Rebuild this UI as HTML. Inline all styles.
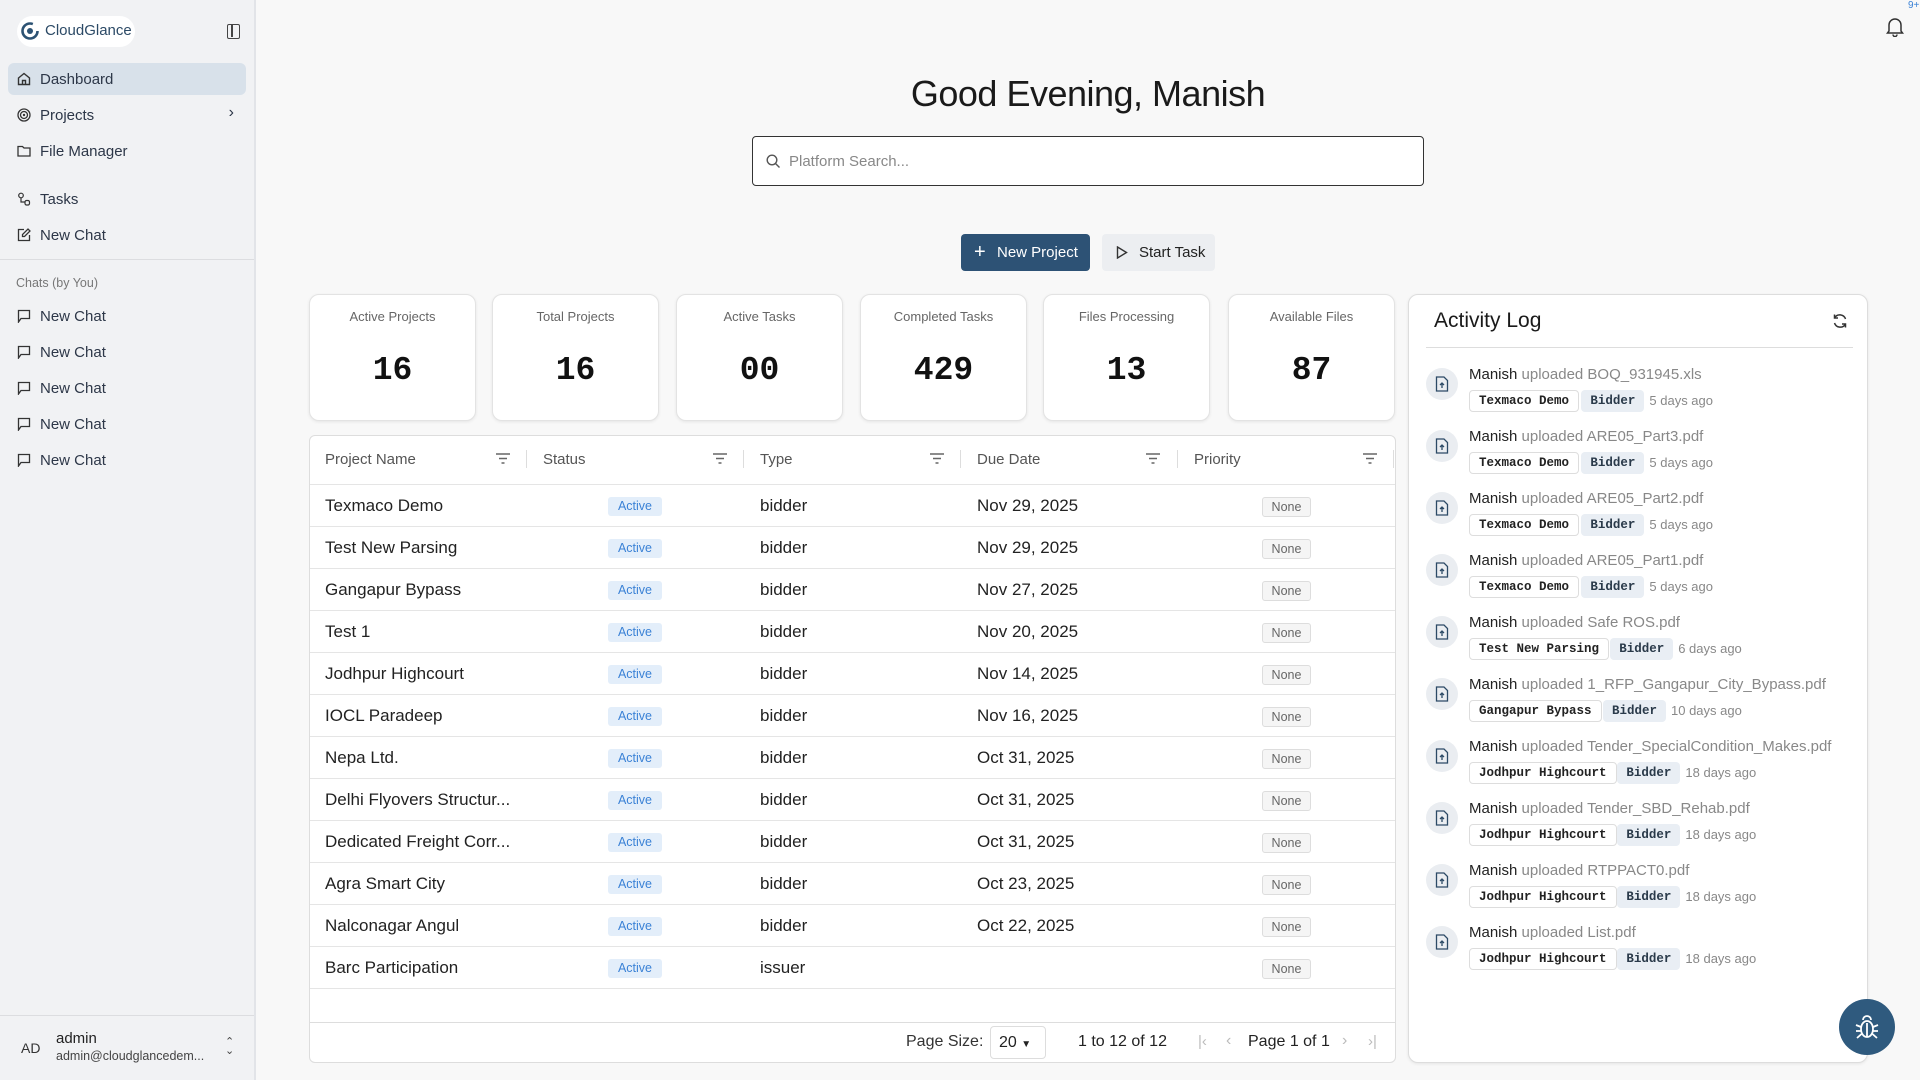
<!DOCTYPE html>
<html><head><meta charset="utf-8"><style>
*{box-sizing:border-box;margin:0;padding:0}
body{width:1920px;height:1080px;overflow:hidden;background:#f8f8f8;font-family:"Liberation Sans",sans-serif;color:#1f2937;position:relative}
.a{position:absolute}
#sb{left:0;top:0;width:256px;height:1080px;background:#f1f2f4;border-right:2px solid #e2e4e8}
.nav{position:absolute;left:8px;width:238px;height:32px;font-size:15px;color:#2d3748;display:flex;align-items:center;padding-left:32px}
.nav svg{position:absolute;left:9px;top:9px}
.card{position:absolute;top:294px;width:167px;height:127px;background:#fff;border:1px solid #e3e3e3;border-radius:10px;box-shadow:0 1px 3px rgba(0,0,0,.08);text-align:center}
.card .l{font-size:13px;color:#666;margin-top:14px}
.card .n{font-family:"Liberation Mono",monospace;font-size:33px;font-weight:bold;color:#111;margin-top:28px}
.row{position:absolute;left:0;width:1086px;height:42px;border-top:1px solid #e5e5e5;font-size:17px;color:#222}
.row span{position:absolute;top:11px}
.act{position:absolute;left:298px;top:12px;width:54px;height:19px;background:#e3eefa;color:#3b82d6;font-size:12.5px;text-align:center;line-height:19px;border-radius:3px}
.none{position:absolute;left:952px;top:12px;width:49px;height:20px;border:1px solid #ddd;background:#f5f5f5;color:#666;font-size:12.5px;text-align:center;line-height:18px;border-radius:3px}
.hd{position:absolute;top:15px;font-size:15px;color:#555}
.sep{position:absolute;top:14px;width:1px;height:18px;background:#ddd}
.it{position:absolute;left:25px;width:440px;height:60px}
.ic{position:absolute;left:-8px;top:2px;width:32px;height:32px;border-radius:50%;background:#eaedf1}
.ic svg{position:absolute;left:9px;top:8px}
.t1{position:absolute;left:35px;top:0;font-size:15px;color:#888;white-space:nowrap}
.t1 b{font-weight:normal;color:#222}
.tg{position:absolute;top:24px;height:22px;font-family:"Liberation Mono",monospace;font-size:12.5px;font-weight:bold;line-height:20px;padding:0 9px;border-radius:4px;color:#222}
.tg.o{border:1px solid #ddd;background:#fff}
.tg.f{background:#e9eef4;color:#2a3a4a;line-height:22px}
.tm{position:absolute;top:27px;font-size:13px;color:#888}
</style></head><body>
<div id="sb" class="a">
 <div class="a" style="left:17px;top:16px;width:118px;height:31px;background:#fff;border-radius:16px"></div>
 <svg class="a" style="left:20px;top:21px" width="20" height="20" viewBox="0 0 20 20"><circle cx="10" cy="10" r="7.5" fill="none" stroke="#2c5273" stroke-width="2.6" stroke-dasharray="38 9"/><circle cx="10" cy="10" r="3" fill="#2c5273"/></svg>
 <div class="a" style="left:45px;top:22px;font-size:15px;color:#2c4a66">CloudGlance</div>
 <div class="a" style="left:227px;top:24px;width:13px;height:15px;border:1.6px solid #444;border-radius:2px"><div style="position:absolute;left:3px;top:0;width:1.6px;height:12px;background:#444"></div></div>
 <div class="nav" style="top:63px;background:#d8e1ea;border-radius:6px"><svg width="14" height="14" viewBox="0 0 14 14"><path d="M1.5 6 7 1.5 12.5 6V12.5H1.5Z M5.5 12.5V8.5H8.5V12.5" fill="none" stroke="#333" stroke-width="1.4"/></svg>Dashboard</div>
 <div class="nav" style="top:99px"><svg width="14" height="14"><circle cx="7" cy="7" r="6" fill="none" stroke="#333" stroke-width="1.3"/><circle cx="7" cy="7" r="3.5" fill="none" stroke="#333" stroke-width="1.3"/><circle cx="7" cy="7" r="1.2" fill="#333"/></svg>Projects<span style="position:absolute;right:12px;top:5px;font-size:16px">›</span></div>
 <div class="nav" style="top:135px"><svg width="14" height="14"><path d="M1 2.5H5.5L7 4H13V12H1Z" fill="none" stroke="#333" stroke-width="1.3"/></svg>File Manager</div>
 <div class="nav" style="top:183px"><svg width="14" height="14"><circle cx="4" cy="3.5" r="2.3" fill="none" stroke="#333" stroke-width="1.2"/><rect x="8" y="8.5" width="4.5" height="4.5" rx="1.5" fill="none" stroke="#333" stroke-width="1.2"/><path d="M4 6V10H8" fill="none" stroke="#333" stroke-width="1.2"/></svg>Tasks</div>
 <div class="nav" style="top:219px"><svg width="14" height="14"><path d="M7 1.5H1.5V12.5H12.5V7 M5.5 8.5V6.5L11 1 13 3 7.5 8.5Z" fill="none" stroke="#333" stroke-width="1.3"/></svg>New Chat</div>
 <div class="a" style="left:0;top:259px;width:254px;height:1px;background:#dcdde0"></div>
 <div class="a" style="left:16px;top:276px;font-size:12.5px;color:#777">Chats (by You)</div>
 <div class="nav" style="top:300px"><svg width="14" height="14"><path d="M1.5 13V1.5H12.5V9.5H4Z" fill="none" stroke="#333" stroke-width="1.3"/></svg>New Chat</div>
 <div class="nav" style="top:336px"><svg width="14" height="14"><path d="M1.5 13V1.5H12.5V9.5H4Z" fill="none" stroke="#333" stroke-width="1.3"/></svg>New Chat</div>
 <div class="nav" style="top:372px"><svg width="14" height="14"><path d="M1.5 13V1.5H12.5V9.5H4Z" fill="none" stroke="#333" stroke-width="1.3"/></svg>New Chat</div>
 <div class="nav" style="top:408px"><svg width="14" height="14"><path d="M1.5 13V1.5H12.5V9.5H4Z" fill="none" stroke="#333" stroke-width="1.3"/></svg>New Chat</div>
 <div class="nav" style="top:444px"><svg width="14" height="14"><path d="M1.5 13V1.5H12.5V9.5H4Z" fill="none" stroke="#333" stroke-width="1.3"/></svg>New Chat</div>
 <div class="a" style="left:0;top:1015px;width:254px;height:1px;background:#dcdde0"></div>
 <div class="a" style="left:21px;top:1040px;font-size:14px;color:#333">AD</div>
 <div class="a" style="left:56px;top:1030px;font-size:15px;color:#222">admin</div>
 <div class="a" style="left:56px;top:1049px;font-size:12.5px;color:#444">admin@cloudglancedem...</div>
 <div class="a" style="left:225px;top:1038px;font-size:11px;color:#444;line-height:9px">⌃<br>⌄</div>
</div>

<svg class="a" style="left:1886px;top:17px" width="18" height="20"><path d="M3 14V8a6 6 0 0 1 12 0v6l1.5 2H1.5Z M7 17.5a2 2 0 0 0 4 0" fill="none" stroke="#333" stroke-width="1.5"/></svg>
<div class="a" style="left:1908px;top:0;font-size:10px;color:#3b82d6">9+</div>

<div class="a" style="left:0;width:2176px;top:73px;text-align:center;font-size:36px;letter-spacing:-0.5px;color:#1a1a1a">Good Evening, Manish</div>
<div class="a" style="left:752px;top:136px;width:672px;height:50px;border:1.5px solid #333;border-radius:4px;background:#fff">
 <svg class="a" style="left:13px;top:17px" width="15" height="15"><circle cx="6" cy="6" r="4.8" fill="none" stroke="#555" stroke-width="1.4"/><path d="M9.5 9.5 13.5 13.5" stroke="#555" stroke-width="1.4"/></svg>
 <div class="a" style="left:36px;top:16px;font-size:15px;color:#888">Platform Search...</div>
</div>
<div class="a" style="left:961px;top:234px;width:129px;height:37px;background:#2d5275;border-radius:4px;color:#fff;font-size:15px;line-height:37px;padding-left:36px"><span style="position:absolute;left:13px;font-size:20px">+</span>New Project</div>
<div class="a" style="left:1102px;top:234px;width:113px;height:37px;background:#eceef1;border-radius:4px;color:#222;font-size:15px;line-height:37px;padding-left:37px"><svg class="a" style="left:14px;top:12px" width="12" height="13"><path d="M1.5 1 10.5 6.5 1.5 12Z" fill="none" stroke="#333" stroke-width="1.4"/></svg>Start Task</div>

<div class="card" style="left:309px"><div class="l">Active Projects</div><div class="n">16</div></div>
<div class="card" style="left:492px"><div class="l">Total Projects</div><div class="n">16</div></div>
<div class="card" style="left:676px"><div class="l">Active Tasks</div><div class="n">00</div></div>
<div class="card" style="left:860px"><div class="l">Completed Tasks</div><div class="n">429</div></div>
<div class="card" style="left:1043px"><div class="l">Files Processing</div><div class="n">13</div></div>
<div class="card" style="left:1228px"><div class="l">Available Files</div><div class="n">87</div></div>

<div class="a" style="left:309px;top:435px;width:1087px;height:628px;background:#fff;border:1px solid #ddd;border-radius:6px;overflow:hidden">
 <div class="hd" style="left:15px">Project Name</div><div class="hd" style="left:233px">Status</div><div class="hd" style="left:450px">Type</div><div class="hd" style="left:667px">Due Date</div><div class="hd" style="left:884px">Priority</div>
 <div class="sep" style="left:216px"></div><div class="sep" style="left:433px"></div><div class="sep" style="left:650px"></div><div class="sep" style="left:867px"></div><div class="sep" style="left:1083px"></div>
 <svg class="a" style="left:186px;top:17px" width="14" height="11"><path d="M0 1H14M3 5.5H11M5.5 10H8.5" stroke="#666" stroke-width="1.4"/></svg>
 <svg class="a" style="left:403px;top:17px" width="14" height="11"><path d="M0 1H14M3 5.5H11M5.5 10H8.5" stroke="#666" stroke-width="1.4"/></svg>
 <svg class="a" style="left:620px;top:17px" width="14" height="11"><path d="M0 1H14M3 5.5H11M5.5 10H8.5" stroke="#666" stroke-width="1.4"/></svg>
 <svg class="a" style="left:836px;top:17px" width="14" height="11"><path d="M0 1H14M3 5.5H11M5.5 10H8.5" stroke="#666" stroke-width="1.4"/></svg>
 <svg class="a" style="left:1053px;top:17px" width="14" height="11"><path d="M0 1H14M3 5.5H11M5.5 10H8.5" stroke="#666" stroke-width="1.4"/></svg>
 <div class="row" style="top:48px"><span style="left:15px">Texmaco Demo</span><div class="act">Active</div><span style="left:450px">bidder</span><span style="left:667px">Nov 29, 2025</span><div class="none">None</div></div>
 <div class="row" style="top:90px"><span style="left:15px">Test New Parsing</span><div class="act">Active</div><span style="left:450px">bidder</span><span style="left:667px">Nov 29, 2025</span><div class="none">None</div></div>
 <div class="row" style="top:132px"><span style="left:15px">Gangapur Bypass</span><div class="act">Active</div><span style="left:450px">bidder</span><span style="left:667px">Nov 27, 2025</span><div class="none">None</div></div>
 <div class="row" style="top:174px"><span style="left:15px">Test 1</span><div class="act">Active</div><span style="left:450px">bidder</span><span style="left:667px">Nov 20, 2025</span><div class="none">None</div></div>
 <div class="row" style="top:216px"><span style="left:15px">Jodhpur Highcourt</span><div class="act">Active</div><span style="left:450px">bidder</span><span style="left:667px">Nov 14, 2025</span><div class="none">None</div></div>
 <div class="row" style="top:258px"><span style="left:15px">IOCL Paradeep</span><div class="act">Active</div><span style="left:450px">bidder</span><span style="left:667px">Nov 16, 2025</span><div class="none">None</div></div>
 <div class="row" style="top:300px"><span style="left:15px">Nepa Ltd.</span><div class="act">Active</div><span style="left:450px">bidder</span><span style="left:667px">Oct 31, 2025</span><div class="none">None</div></div>
 <div class="row" style="top:342px"><span style="left:15px">Delhi Flyovers Structur...</span><div class="act">Active</div><span style="left:450px">bidder</span><span style="left:667px">Oct 31, 2025</span><div class="none">None</div></div>
 <div class="row" style="top:384px"><span style="left:15px">Dedicated Freight Corr...</span><div class="act">Active</div><span style="left:450px">bidder</span><span style="left:667px">Oct 31, 2025</span><div class="none">None</div></div>
 <div class="row" style="top:426px"><span style="left:15px">Agra Smart City</span><div class="act">Active</div><span style="left:450px">bidder</span><span style="left:667px">Oct 23, 2025</span><div class="none">None</div></div>
 <div class="row" style="top:468px"><span style="left:15px">Nalconagar Angul</span><div class="act">Active</div><span style="left:450px">bidder</span><span style="left:667px">Oct 22, 2025</span><div class="none">None</div></div>
 <div class="row" style="top:510px"><span style="left:15px">Barc Participation</span><div class="act">Active</div><span style="left:450px">issuer</span><div class="none">None</div></div>
 <div class="row" style="top:552px"></div>
 <div class="a" style="left:0;top:586px;width:1087px;height:1px;background:#ddd"></div>
 <div class="a" style="left:596px;top:597px;font-size:16px;color:#333">Page Size:</div>
 <div class="a" style="left:680px;top:590px;width:56px;height:33px;border:1px solid #ddd;border-radius:4px;font-size:16px;line-height:31px;padding-left:8px;color:#222">20 <span style="font-size:10px">▼</span></div>
 <div class="a" style="left:768px;top:597px;font-size:16px;color:#222">1 to 12 of 12</div>
 <div class="a" style="left:888px;top:597px;font-size:15px;color:#bbb">|‹</div>
 <div class="a" style="left:916px;top:596px;font-size:16px;color:#bbb">‹</div>
 <div class="a" style="left:938px;top:597px;font-size:16px;color:#222">Page 1 of 1</div>
 <div class="a" style="left:1032px;top:596px;font-size:16px;color:#bbb">›</div>
 <div class="a" style="left:1058px;top:597px;font-size:15px;color:#bbb">›|</div>
</div>

<div class="a" style="left:1408px;top:294px;width:460px;height:769px;background:#fff;border:1px solid #ddd;border-radius:10px;box-shadow:0 1px 3px rgba(0,0,0,.08)">
 <div class="a" style="left:25px;top:14px;font-size:21px;color:#1a1a1a">Activity Log</div>
 <svg class="a" style="left:423px;top:18px" width="16" height="16"><path d="M13.5 6A6 6 0 0 0 2.5 5 M2.5 10A6 6 0 0 0 13.5 11 M2.5 1.5V5H6 M13.5 14.5V11H10" fill="none" stroke="#333" stroke-width="1.5"/></svg>
 <div class="a" style="left:17px;top:52px;width:427px;height:1px;background:#ddd"></div>
 <div id="items"></div>
</div>
<div class="a" style="left:1839px;top:999px;width:56px;height:56px;border-radius:50%;background:#2f5a7e">
 <svg class="a" style="left:16px;top:15px" width="24" height="26" viewBox="0 0 24 26"><ellipse cx="12" cy="15" rx="6" ry="8" fill="none" stroke="#fff" stroke-width="1.8"/><path d="M8 6a4 4 0 0 1 8 0 M12 9V23 M1 11L6 13M23 11L18 13M1 17H6M23 17H18M2 24L6.5 20M22 24L17.5 20" stroke="#fff" stroke-width="1.8" fill="none"/></svg>
</div>
<script>
var d=[["BOQ_931945.xls","Texmaco Demo","5 days ago"],["ARE05_Part3.pdf","Texmaco Demo","5 days ago"],["ARE05_Part2.pdf","Texmaco Demo","5 days ago"],["ARE05_Part1.pdf","Texmaco Demo","5 days ago"],["Safe ROS.pdf","Test New Parsing","6 days ago"],["1_RFP_Gangapur_City_Bypass.pdf","Gangapur Bypass","10 days ago"],["Tender_SpecialCondition_Makes.pdf","Jodhpur Highcourt","18 days ago"],["Tender_SBD_Rehab.pdf","Jodhpur Highcourt","18 days ago"],["RTPPACT0.pdf","Jodhpur Highcourt","18 days ago"],["List.pdf","Jodhpur Highcourt","18 days ago"]];
var h="";d.forEach(function(r,i){var w=r[1].length*7.2+18;h+='<div class="it" style="top:'+(71+i*62)+'px"><div class="ic"><svg width="14" height="16"><path d="M1.5 1H9L12.5 4.5V15H1.5Z M7 12V7 M5 9 7 7 9 9" fill="none" stroke="#2c4a66" stroke-width="1.3"/></svg></div><div class="t1"><b>Manish</b> uploaded '+r[0]+'</div><div class="tg o" style="left:35px">'+r[1]+'</div><div class="tg f" style="left:'+(35+w+8)+'px">Bidder</div><div class="tm" style="left:'+(35+w+8+68)+'px">'+r[2]+'</div></div>'});
document.getElementById("items").innerHTML=h;
</script>
</body></html>
